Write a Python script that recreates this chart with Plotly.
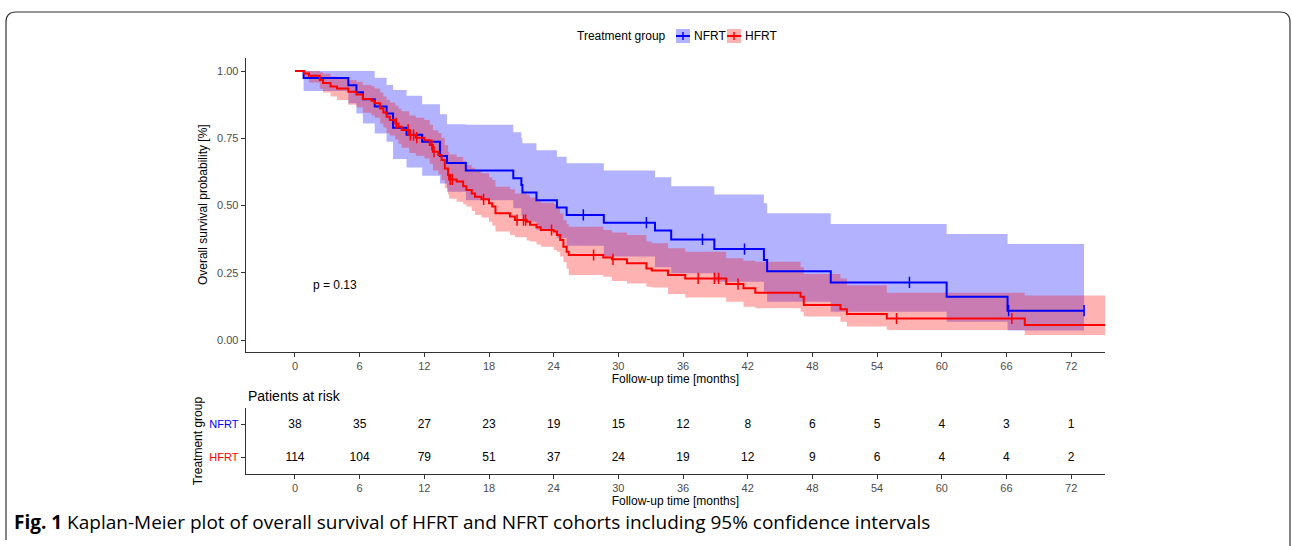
import numpy as np
import plotly.graph_objects as go

# ---------------- data ----------------
blue_t = [0, 0.8, 4.95, 5.7, 6.3, 7.4, 8.5, 9.1, 10.35, 11.8, 13.45, 14.1, 15.85, 20.25, 21.0, 21.1,
          22.4, 24.3, 25.2, 28.65, 33.4, 34.9, 38.9, 43.5, 43.8, 49.7, 60.45, 66.1, 73.2]
blue_s = [1.0, 0.974, 0.947, 0.921, 0.895, 0.868, 0.842, 0.789, 0.763, 0.737, 0.684, 0.658, 0.630,
          0.601, 0.576, 0.548, 0.520, 0.493, 0.465, 0.436, 0.407, 0.374, 0.338, 0.297, 0.256, 0.214,
          0.161, 0.109, 0.109]
blue_hi = [1.0, 1.0, 1.0, 1.0, 1.0, 0.975, 0.948, 0.929, 0.908, 0.876, 0.839, 0.802, 0.80, 0.772,
           0.75, 0.731, 0.705, 0.681, 0.657, 0.630, 0.605, 0.572, 0.541, 0.508, 0.471, 0.431, 0.394,
           0.357, 0.357]
blue_lo = [1.0, 0.926, 0.88, 0.842, 0.805, 0.768, 0.737, 0.673, 0.641, 0.611, 0.582, 0.551, 0.52,
           0.49, 0.465, 0.44, 0.41, 0.38, 0.35, 0.31, 0.27, 0.248, 0.217, 0.18, 0.142, 0.105, 0.068,
           0.035, 0.035]
blue_cens = [26.75, 32.6, 37.8, 41.7, 57.0, 66.2, 73.2]

red_t = [0, 0.85, 1.3, 2.3, 2.6, 3.3, 3.9, 4.95, 5.7, 6.3, 7.1, 7.4, 7.9, 8.2, 8.5, 8.8, 9.3, 9.6,
         9.9, 10.6, 11.2, 12.0, 12.5, 12.8, 13.3, 13.6, 13.9, 14.2, 14.3, 15.0, 15.6, 15.9, 16.4,
         16.7, 17.3, 18.0, 18.3, 18.6, 19.95, 20.4, 21.5, 21.8, 22.4, 22.8, 24.0, 24.3, 24.6, 24.9,
         25.2, 25.4, 28.6, 29.4, 30.8, 32.6, 33.1, 34.6, 36.2, 40.0, 41.6, 42.7, 46.9, 47.2, 50.6,
         51.2, 54.9, 67.7, 75.2]
red_s = [1.0, 0.991, 0.982, 0.967, 0.955, 0.942, 0.935, 0.923, 0.913, 0.896, 0.889, 0.880, 0.861,
         0.846, 0.830, 0.818, 0.805, 0.793, 0.781, 0.762, 0.752, 0.743, 0.725, 0.700, 0.688, 0.669,
         0.638, 0.613, 0.597, 0.589, 0.572, 0.558, 0.545, 0.533, 0.523, 0.508, 0.496, 0.471, 0.459,
         0.446, 0.440, 0.428, 0.419, 0.409, 0.403, 0.390, 0.372, 0.347, 0.328, 0.316, 0.307, 0.300,
         0.285, 0.266, 0.258, 0.242, 0.229, 0.208, 0.192, 0.176, 0.161, 0.130, 0.114, 0.097, 0.080,
         0.056, 0.056]
red_lo = [1.0, 0.975, 0.957, 0.934, 0.92, 0.905, 0.892, 0.875, 0.865, 0.845, 0.835, 0.826, 0.805,
          0.79, 0.77, 0.76, 0.745, 0.73, 0.715, 0.695, 0.685, 0.675, 0.655, 0.63, 0.615, 0.595,
          0.565, 0.54, 0.525, 0.514, 0.505, 0.496, 0.48, 0.465, 0.455, 0.44, 0.425, 0.403, 0.39,
          0.382, 0.37, 0.366, 0.355, 0.347, 0.335, 0.328, 0.31, 0.29, 0.265, 0.242, 0.235, 0.219,
          0.21, 0.198, 0.195, 0.171, 0.158, 0.142, 0.124, 0.118, 0.105, 0.087, 0.068, 0.05, 0.037,
          0.019, 0.019]
red_hi = [1.0, 1.0, 1.0, 0.995, 0.99, 0.98, 0.975, 0.967, 0.96, 0.948, 0.943, 0.935, 0.92, 0.905,
          0.893, 0.883, 0.872, 0.86, 0.85, 0.835, 0.826, 0.818, 0.80, 0.78, 0.77, 0.752, 0.725, 0.70,
          0.69, 0.68, 0.665, 0.65, 0.64, 0.63, 0.62, 0.605, 0.595, 0.57, 0.56, 0.545, 0.54, 0.53,
          0.52, 0.51, 0.505, 0.49, 0.47, 0.445, 0.43, 0.421, 0.409, 0.40, 0.39, 0.366, 0.36, 0.341,
          0.328, 0.304, 0.295, 0.291, 0.27, 0.245, 0.229, 0.204, 0.176, 0.165, 0.165]
red_cens = [9.4, 10.5, 10.7, 11.0, 11.3, 12.7, 12.9, 14.4, 14.6, 17.5, 20.6, 21.2, 21.4, 23.8,
            27.7, 29.5, 37.4, 38.9, 39.3, 41.1, 55.8, 66.5]

risk_times = [0, 6, 12, 18, 24, 30, 36, 42, 48, 54, 60, 66, 72]
risk_nfrt = [38, 35, 27, 23, 19, 15, 12, 8, 6, 5, 4, 3, 1]
risk_hfrt = [114, 104, 79, 51, 37, 24, 19, 12, 9, 6, 4, 4, 2]

groups = ["NFRT", "HFRT"]
y_ticks = [0, 0.25, 0.5, 0.75, 1.0]
y_ticktext = ["0.00", "0.25", "0.50", "0.75", "1.00"]
p_text = "p = 0.13"

BLUE = "#0000FF"
RED = "#FF0000"
BLUE_FILL = "rgba(0,0,255,0.30)"
RED_FILL = "rgba(255,0,0,0.30)"
W, H = 1292, 546
FONT = "Liberation Sans"


def step_at(ts, ss, x):
    i = np.searchsorted(np.array(ts), x, side="right") - 1
    return ss[max(i, 0)]


fig = go.Figure()

# confidence bands (blue first, red drawn on top)
fig.add_trace(go.Scatter(x=blue_t, y=blue_lo, mode="lines", line=dict(width=0, shape="hv"),
                         showlegend=False, hoverinfo="skip"))
fig.add_trace(go.Scatter(x=blue_t, y=blue_hi, mode="lines", line=dict(width=0, shape="hv"),
                         fill="tonexty", fillcolor=BLUE_FILL, showlegend=False, hoverinfo="skip"))
fig.add_trace(go.Scatter(x=red_t, y=red_lo, mode="lines", line=dict(width=0, shape="hv"),
                         showlegend=False, hoverinfo="skip"))
fig.add_trace(go.Scatter(x=red_t, y=red_hi, mode="lines", line=dict(width=0, shape="hv"),
                         fill="tonexty", fillcolor=RED_FILL, showlegend=False, hoverinfo="skip"))

# survival curves
fig.add_trace(go.Scatter(x=blue_t, y=blue_s, mode="lines", name=groups[0], showlegend=False,
                         line=dict(color=BLUE, width=2, shape="hv")))
fig.add_trace(go.Scatter(x=red_t, y=red_s, mode="lines", name=groups[1], showlegend=False,
                         line=dict(color=RED, width=2, shape="hv")))

# censor marks
fig.add_trace(go.Scatter(x=blue_cens, y=[step_at(blue_t, blue_s, c) for c in blue_cens],
                         mode="markers", showlegend=False,
                         marker=dict(symbol="line-ns", size=8, line=dict(color=BLUE, width=1.5))))
fig.add_trace(go.Scatter(x=red_cens, y=[step_at(red_t, red_s, c) for c in red_cens],
                         mode="markers", showlegend=False,
                         marker=dict(symbol="line-ns", size=8, line=dict(color=RED, width=1.5))))

# p-value
fig.add_trace(go.Scatter(x=[3.7], y=[0.20], mode="text", text=[p_text], showlegend=False,
                         textfont=dict(size=12, color="black", family=FONT)))

# risk table
fig.add_trace(go.Scatter(x=risk_times, y=[2] * len(risk_times), mode="text",
                         text=[str(v) for v in risk_nfrt], xaxis="x2", yaxis="y2", showlegend=False,
                         textfont=dict(size=12, color="black", family=FONT)))
fig.add_trace(go.Scatter(x=risk_times, y=[1] * len(risk_times), mode="text",
                         text=[str(v) for v in risk_hfrt], xaxis="x2", yaxis="y2", showlegend=False,
                         textfont=dict(size=12, color="black", family=FONT)))

xl, xr = 245.7, 1105
xdom = [xl / W, xr / W]
xrange = [-4.57, 75.14]
axis_common = dict(showgrid=False, zeroline=False, showline=True, linecolor="#333333", linewidth=1,
                   ticks="outside", ticklen=4, tickcolor="#333333",
                   tickfont=dict(size=11, color="#4d4d4d", family=FONT))

fig.update_layout(
    width=W, height=H, margin=dict(l=0, r=0, t=0, b=0),
    paper_bgcolor="white", plot_bgcolor="white",
    font=dict(family=FONT, color="black"),
    showlegend=False,
    xaxis=dict(domain=xdom, range=xrange, anchor="y", tickvals=risk_times,
               title=dict(text="Follow-up time [months]", font=dict(size=12), standoff=2),
               **axis_common),
    yaxis=dict(domain=[(H - 351.7) / H, (H - 57.7) / H], range=[-0.0435, 1.0495], anchor="x",
               tickvals=y_ticks, ticktext=y_ticktext,
               title=dict(text="Overall survival probability [%]", font=dict(size=12), standoff=6),
               **axis_common),
    xaxis2=dict(domain=xdom, range=xrange, anchor="y2", tickvals=risk_times,
                title=dict(text="Follow-up time [months]", font=dict(size=12), standoff=2),
                **axis_common),
    yaxis2=dict(domain=[(H - 474) / H, (H - 408) / H], range=[0.5, 2.5], anchor="x2",
                tickvals=[2, 1],
                ticktext=['<span style="color:#0000FF">NFRT</span>',
                          '<span style="color:#FF0000">HFRT</span>'],
                title=dict(text="Treatment group", font=dict(size=12), standoff=4),
                **axis_common),
)


def pxx(x):
    return x / W


def pxy(y):
    return (H - y) / H


# manual legend (ggplot style keys)
fig.add_annotation(text="Treatment group", xref="paper", yref="paper", x=pxx(668), y=pxy(36),
                   xanchor="right", yanchor="middle", showarrow=False,
                   font=dict(size=12, color="black"))
for x0, col, fill, lab in [(676, BLUE, BLUE_FILL, groups[0]), (727, RED, RED_FILL, groups[1])]:
    fig.add_shape(type="rect", xref="paper", yref="paper", x0=pxx(x0), x1=pxx(x0 + 14),
                  y0=pxy(43), y1=pxy(29), fillcolor=fill, line=dict(width=0))
    fig.add_shape(type="line", xref="paper", yref="paper", x0=pxx(x0), x1=pxx(x0 + 14),
                  y0=pxy(36), y1=pxy(36), line=dict(color=col, width=2))
    fig.add_shape(type="line", xref="paper", yref="paper", x0=pxx(x0 + 7), x1=pxx(x0 + 7),
                  y0=pxy(32), y1=pxy(40), line=dict(color=col, width=1.5))
    fig.add_annotation(text=lab, xref="paper", yref="paper", x=pxx(x0 + 16), y=pxy(36),
                       xanchor="left", yanchor="middle", showarrow=False,
                       font=dict(size=12, color="black"))

fig.add_annotation(text="Patients at risk", xref="paper", yref="paper", x=pxx(246), y=pxy(396),
                   xanchor="left", yanchor="middle", showarrow=False,
                   font=dict(size=14, color="black"))

fig.add_annotation(text="<b>Fig. 1</b> Kaplan-Meier plot of overall survival of HFRT and NFRT cohorts "
                        "including 95% confidence intervals",
                   xref="paper", yref="paper", x=pxx(12), y=pxy(522), xanchor="left",
                   yanchor="middle", showarrow=False,
                   font=dict(size=19, color="black", family="Open Sans"))


# outer rounded frame
def pt(x, y):
    return f"{pxx(x):.5f},{pxy(y):.5f}"


frame = (f"M {pt(6, 540)} L {pt(6, 22)} Q {pt(6, 12)} {pt(16, 12)} "
         f"L {pt(1280, 12)} Q {pt(1290, 12)} {pt(1290, 22)} L {pt(1290, 546)}")
fig.add_shape(type="path", path=frame, xref="paper", yref="paper",
              line=dict(color="#333333", width=1.2))

fig.write_html("out.html", config={"displayModeBar": False},
               post_script="document.body.style.margin='0';")
